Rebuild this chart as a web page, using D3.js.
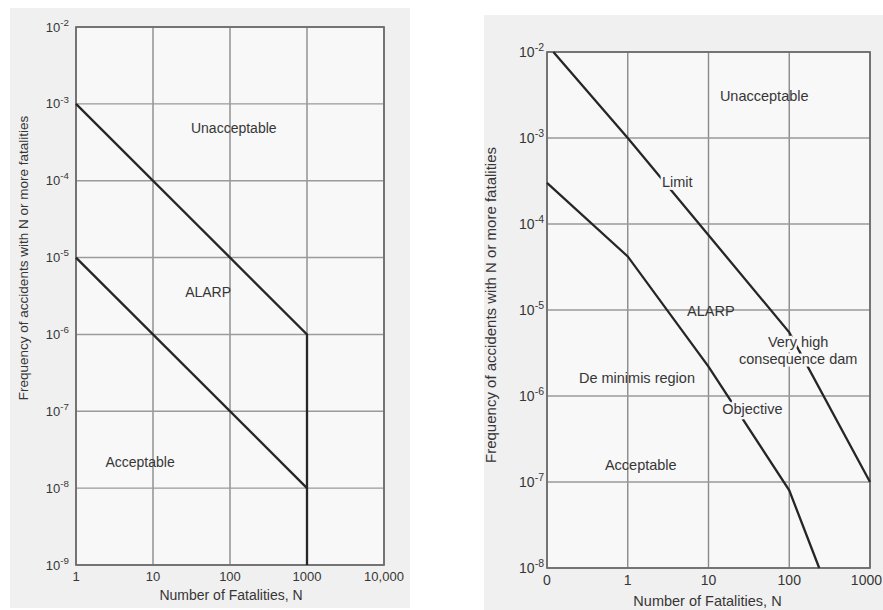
<!DOCTYPE html>
<html>
<head>
<meta charset="utf-8">
<script src="https://cdn.jsdelivr.net/npm/d3@7"></script>
<style>
  body { margin: 0; background: #ffffff; }
  svg text { font-family: "Liberation Sans", Arial, sans-serif; fill: #363636; }
</style>
</head>
<body>
<div id="chart"></div>
<script>
// left panel: societal risk criteria (N in 1..10,000)
const leftXTicks = [1, 10, 100, 1000, 10000];
const leftXLabels = ["1", "10", "100", "1000", "10,000"];
const leftYExp = [-2, -3, -4, -5, -6, -7, -8, -9];
const leftUpper = [[1, 1e-3], [1000, 1e-6], [1000, 1e-9]];
const leftLower = [[1, 1e-5], [1000, 1e-8]];
const leftRegions = [
  { text: "Unacceptable", n: 112, f: Math.pow(10, -3.31) },
  { text: "ALARP", n: 52, f: Math.pow(10, -5.45) },
  { text: "Acceptable", n: 6.8, f: Math.pow(10, -7.66) }
];

// right panel: dam safety criteria (N in 0..1000)
const rightXTicks = [0.1, 1, 10, 100, 1000];
const rightXLabels = ["0", "1", "10", "100", "1000"];
const rightYExp = [-2, -3, -4, -5, -6, -7, -8];
const limitLine = [[0.12, 1e-2], [1, 1e-3], [100, 5.5e-6], [1000, 1e-7]];
const objectiveLine = [[0.1, 3e-4], [1, 4.2e-5], [10, 2.2e-6], [100, 8e-8], [235, 1e-8]];
const rightRegions = [
  { text: "Unacceptable", n: 49, f: Math.pow(10, -2.51) },
  { text: "ALARP", n: 10.7, f: Math.pow(10, -5.01) },
  { text: "De minimis region", n: 1.3, f: Math.pow(10, -5.79) },
  { text: "Acceptable", n: 1.45, f: Math.pow(10, -6.8) }
];
// labels that sit on a curve and break it
const rightLineLabels = [
  { text: ["Limit"], n: 4.1, f: Math.pow(10, -3.51) },
  { text: ["Very high", "consequence dam"], n: 129, f: Math.pow(10, -5.37) },
  { text: ["Objective"], n: 35, f: Math.pow(10, -6.15) }
];

const W = 883, H = 610;
const svg = d3.select("#chart").append("svg")
    .attr("width", W)
    .attr("height", H);

const yTitle = "Frequency of accidents with N or more fatalities";
const xTitle = "Number of Fatalities, N";

function drawPanel(opt) {
  const g = svg.append("g");
  const x = d3.scaleLog().domain(opt.xDomain).range(opt.xRange);
  const y = d3.scaleLog().domain(opt.yDomain).range(opt.yRange);

  // scanned page background
  g.append("rect")
      .attr("x", opt.page[0]).attr("y", opt.page[1])
      .attr("width", opt.page[2]).attr("height", opt.page[3])
      .attr("fill", "#f0f0f0");

  g.append("rect")
      .attr("x", opt.xRange[0]).attr("y", opt.yRange[1])
      .attr("width", opt.xRange[1] - opt.xRange[0])
      .attr("height", opt.yRange[0] - opt.yRange[1])
      .attr("fill", "#f8f8f8");

  // grid
  g.selectAll(".vgrid").data(opt.xTicks).enter().append("line")
      .attr("x1", d => x(d)).attr("x2", d => x(d))
      .attr("y1", opt.yRange[0]).attr("y2", opt.yRange[1])
      .attr("stroke", "#8a8a8a").attr("stroke-width", 1.4);

  g.selectAll(".hgrid").data(opt.yExp).enter().append("line")
      .attr("x1", opt.xRange[0]).attr("x2", opt.xRange[1])
      .attr("y1", d => y(Math.pow(10, d))).attr("y2", d => y(Math.pow(10, d)))
      .attr("stroke", "#9a9a9a").attr("stroke-width", 1.4);

  // frame
  g.append("rect")
      .attr("x", opt.xRange[0]).attr("y", opt.yRange[1])
      .attr("width", opt.xRange[1] - opt.xRange[0])
      .attr("height", opt.yRange[0] - opt.yRange[1])
      .attr("fill", "none")
      .attr("stroke", "#6a6a6a").attr("stroke-width", 1.7);

  // y tick labels 10^n
  const yl = g.selectAll(".ylab").data(opt.yExp).enter().append("text")
      .attr("x", opt.xRange[0] - opt.yLabelGap)
      .attr("y", d => y(Math.pow(10, d)))
      .attr("dy", "0.35em")
      .attr("text-anchor", "end")
      .attr("font-size", opt.tickSize);
  yl.append("tspan").text("10");
  yl.append("tspan")
      .attr("dy", "-0.6em")
      .attr("font-size", opt.tickSize * 0.75)
      .text(d => "-" + Math.abs(d));

  // x tick labels (last one kept inside the page)
  g.selectAll(".xlab").data(opt.xTicks).enter().append("text")
      .attr("x", (d, i) => (i === opt.xTicks.length - 1 && opt.clampLast) ? W - 1 : x(d))
      .attr("y", opt.yRange[0] + opt.xLabelGap)
      .attr("text-anchor", (d, i) => (i === opt.xTicks.length - 1 && opt.clampLast) ? "end" : "middle")
      .attr("font-size", opt.tickSize)
      .text((d, i) => opt.xLabels[i]);

  // axis titles
  g.append("text")
      .attr("x", d3.mean(opt.xRange) + opt.xTitleShift)
      .attr("y", opt.yRange[0] + opt.xTitleGap)
      .attr("text-anchor", "middle")
      .attr("font-size", opt.xTitleSize)
      .text(xTitle);

  g.append("text")
      .attr("transform", "translate(" + opt.yTitleX + "," + opt.yTitleY + ") rotate(-90)")
      .attr("text-anchor", "middle")
      .attr("font-size", opt.yTitleSize)
      .text(yTitle);

  return { g: g, x: x, y: y };
}

// ---------- left panel ----------
const left = drawPanel({
  page: [10, 8, 400, 600],
  xDomain: [1, 10000], xRange: [76, 384],
  yDomain: [1e-9, 1e-2], yRange: [565, 27],
  xTicks: leftXTicks, xLabels: leftXLabels, yExp: leftYExp,
  yLabelGap: 7, xLabelGap: 16, xTitleGap: 35, xTitleShift: 1,
  yTitleX: 28, yTitleY: 258,
  tickSize: 13, xTitleSize: 14, yTitleSize: 13.5
});

const lineGen = (p) => d3.line().x(d => p.x(d[0])).y(d => p.y(d[1]));

[leftUpper, leftLower].forEach(function(s) {
  left.g.append("path")
      .attr("d", lineGen(left)(s))
      .attr("fill", "none")
      .attr("stroke", "#262626")
      .attr("stroke-width", 2.3);
});

left.g.selectAll(".region").data(leftRegions).enter().append("text")
    .attr("x", d => left.x(d.n))
    .attr("y", d => left.y(d.f))
    .attr("dy", "0.35em")
    .attr("text-anchor", "middle")
    .attr("font-size", 14)
    .text(d => d.text);

// ---------- right panel ----------
const right = drawPanel({
  page: [484, 15, 399, 595],
  xDomain: [0.1, 1000], xRange: [547, 870],
  yDomain: [1e-8, 1e-2], yRange: [568, 52],
  xTicks: rightXTicks, xLabels: rightXLabels, yExp: rightYExp,
  yLabelGap: 3, xLabelGap: 17, xTitleGap: 38, xTitleShift: -1,
  yTitleX: 496, yTitleY: 305,
  tickSize: 14, xTitleSize: 14.5, yTitleSize: 15, clampLast: true
});

[limitLine, objectiveLine].forEach(function(s) {
  right.g.append("path")
      .attr("d", lineGen(right)(s))
      .attr("fill", "none")
      .attr("stroke", "#262626")
      .attr("stroke-width", 2.3);
});

right.g.selectAll(".region").data(rightRegions).enter().append("text")
    .attr("x", d => right.x(d.n))
    .attr("y", d => right.y(d.f))
    .attr("dy", "0.35em")
    .attr("text-anchor", "middle")
    .attr("font-size", 14.5)
    .text(d => d.text);

// curve labels with a halo that cuts the line
right.g.selectAll(".curve-label").data(rightLineLabels).enter().append("text")
    .attr("x", d => right.x(d.n))
    .attr("y", d => right.y(d.f))
    .attr("text-anchor", "middle")
    .attr("font-size", 14.5)
    .attr("stroke", "#f8f8f8")
    .attr("stroke-width", 5)
    .attr("paint-order", "stroke")
    .each(function(d) {
      const t = d3.select(this);
      d.text.forEach(function(line, i) {
        t.append("tspan")
            .attr("x", right.x(d.n))
            .attr("dy", i === 0 ? "0.35em" : "1.2em")
            .text(line);
      });
    });
</script>
</body>
</html>
